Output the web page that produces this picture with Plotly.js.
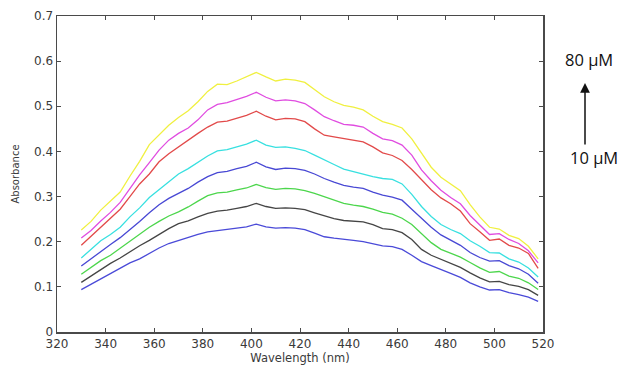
<!DOCTYPE html>
<html>
<head>
<meta charset="utf-8">
<script src="https://cdn.plot.ly/plotly-3.0.1.min.js"></script>
<style>html,body{margin:0;padding:0;background:#fff;}#chart{width:625px;height:368px;}</style>
</head>
<body>
<div id="chart"></div>
<script>
var wavelength = [330,334,338,342,346,350,354,358,362,366,370,374,378,382,386,390,394,398,402,406,410,414,418,422,426,430,434,438,442,446,450,454,458,462,466,470,474,478,482,486,490,494,498,502,506,510,514,518];

var conc10 = [0.094,0.106,0.118,0.130,0.141,0.153,0.162,0.174,0.186,0.196,0.203,0.209,0.216,0.222,0.225,0.227,0.230,0.233,0.239,0.233,0.230,0.231,0.230,0.227,0.219,0.211,0.208,0.206,0.203,0.200,0.196,0.191,0.189,0.183,0.170,0.156,0.147,0.139,0.130,0.121,0.109,0.100,0.093,0.094,0.087,0.083,0.077,0.068];
var conc20 = [0.110,0.124,0.139,0.152,0.164,0.178,0.191,0.203,0.216,0.229,0.240,0.246,0.255,0.263,0.268,0.270,0.274,0.278,0.285,0.278,0.274,0.275,0.274,0.271,0.264,0.257,0.251,0.247,0.246,0.244,0.238,0.229,0.227,0.220,0.205,0.183,0.170,0.161,0.152,0.143,0.131,0.120,0.111,0.112,0.105,0.101,0.094,0.081];
var conc30 = [0.128,0.143,0.158,0.170,0.186,0.200,0.216,0.232,0.245,0.257,0.266,0.277,0.290,0.302,0.308,0.310,0.315,0.319,0.327,0.320,0.316,0.318,0.317,0.313,0.307,0.300,0.292,0.285,0.281,0.278,0.272,0.265,0.261,0.252,0.238,0.219,0.198,0.183,0.175,0.166,0.154,0.142,0.132,0.134,0.124,0.119,0.109,0.094];
var conc40 = [0.146,0.162,0.180,0.194,0.209,0.226,0.245,0.264,0.282,0.296,0.307,0.318,0.332,0.344,0.353,0.356,0.362,0.367,0.376,0.366,0.360,0.363,0.362,0.358,0.350,0.340,0.332,0.325,0.321,0.318,0.310,0.303,0.299,0.292,0.272,0.252,0.232,0.215,0.203,0.192,0.176,0.165,0.157,0.158,0.147,0.140,0.128,0.108];
var conc50 = [0.164,0.182,0.202,0.216,0.232,0.255,0.275,0.298,0.315,0.333,0.350,0.362,0.377,0.390,0.401,0.404,0.410,0.416,0.425,0.414,0.409,0.410,0.407,0.402,0.392,0.381,0.371,0.361,0.355,0.349,0.344,0.340,0.338,0.328,0.305,0.278,0.256,0.238,0.227,0.218,0.202,0.190,0.176,0.175,0.162,0.155,0.142,0.122];
var conc60 = [0.192,0.212,0.233,0.252,0.272,0.300,0.328,0.350,0.377,0.395,0.410,0.426,0.440,0.454,0.465,0.467,0.474,0.480,0.489,0.478,0.470,0.473,0.472,0.466,0.450,0.436,0.432,0.428,0.425,0.421,0.410,0.397,0.391,0.380,0.360,0.337,0.315,0.297,0.284,0.268,0.240,0.222,0.203,0.206,0.192,0.186,0.174,0.141];
var conc70 = [0.208,0.225,0.246,0.265,0.287,0.318,0.348,0.375,0.403,0.425,0.440,0.452,0.470,0.492,0.504,0.508,0.515,0.522,0.531,0.520,0.512,0.514,0.512,0.506,0.492,0.477,0.468,0.460,0.458,0.454,0.440,0.428,0.424,0.414,0.392,0.359,0.335,0.314,0.298,0.284,0.258,0.237,0.216,0.218,0.205,0.196,0.180,0.153];
var conc80 = [0.226,0.245,0.270,0.290,0.310,0.345,0.378,0.415,0.437,0.458,0.475,0.490,0.510,0.533,0.549,0.548,0.556,0.565,0.575,0.565,0.556,0.560,0.558,0.553,0.538,0.521,0.510,0.502,0.498,0.492,0.478,0.466,0.460,0.452,0.428,0.396,0.365,0.343,0.328,0.313,0.282,0.255,0.232,0.228,0.214,0.207,0.190,0.162];

var seriesValues = [conc10, conc20, conc30, conc40, conc50, conc60, conc70, conc80];
var seriesNames = ['10 µM','20 µM','30 µM','40 µM','50 µM','60 µM','70 µM','80 µM'];
var seriesColors = ['#4a4ad8','#454545','#4cd64c','#4848d4','#38e0e0','#e24a4a','#e04ce0','#f0f040'];

var xTicks = [320,340,360,380,400,420,440,460,480,500,520];
var yTicks = [0,0.1,0.2,0.3,0.4,0.5,0.6,0.7];
var yTickText = ['0','0.1','0.2','0.3','0.4','0.5','0.6','0.7'];

var traces = seriesValues.map(function(v, i){
  return {x: wavelength, y: v, type: 'scatter', mode: 'lines', name: seriesNames[i],
          line: {color: seriesColors[i], width: 1.3}, hoverinfo: 'skip'};
});

var axisFont = {family: 'DejaVu Sans, sans-serif', size: 12, color: '#3a3a3a'};

var layout = {
  width: 625, height: 368,
  margin: {l: 57, r: 82, t: 16, b: 36, pad: 0},
  paper_bgcolor: '#ffffff', plot_bgcolor: '#ffffff',
  showlegend: false,
  xaxis: {
    range: [320, 520], tickvals: xTicks, ticktext: xTicks.map(String),
    showgrid: false, zeroline: false, showline: true, mirror: 'ticks',
    linecolor: '#4a4a4a', linewidth: 1.5, ticks: 'inside', ticklen: 4, tickwidth: 1, tickcolor: '#4a4a4a',
    tickfont: axisFont,
    title: {text: 'Wavelength (nm)', font: {family: 'DejaVu Sans, sans-serif', size: 11.5, color: '#3a3a3a'}, standoff: 2}
  },
  yaxis: {
    range: [0, 0.7], tickvals: yTicks, ticktext: yTickText,
    showgrid: false, zeroline: false, showline: true, mirror: 'ticks',
    linecolor: '#4a4a4a', linewidth: 1.5, ticks: 'inside', ticklen: 4, tickwidth: 1, tickcolor: '#4a4a4a',
    tickfont: axisFont,
    title: {text: 'Absorbance', font: {family: 'DejaVu Sans, sans-serif', size: 10, color: '#3a3a3a'}, standoff: 12}
  },
  annotations: [
    {xref: 'paper', yref: 'paper', x: (589-57)/486, y: (332-60)/316, text: '80 µM', showarrow: false,
     font: {family: 'Open Sans, sans-serif', size: 16.5, color: '#111'}, xanchor: 'center', yanchor: 'middle'},
    {xref: 'paper', yref: 'paper', x: (594-57)/486, y: (332-158)/316, text: '10 µM', showarrow: false,
     font: {family: 'Open Sans, sans-serif', size: 16.5, color: '#111'}, xanchor: 'center', yanchor: 'middle'},
    {xref: 'paper', yref: 'paper', x: (585-57)/486, y: (332-83)/316, text: '', showarrow: true,
     ax: 0, ay: 63, arrowhead: 2, arrowsize: 1.3, arrowwidth: 1.5, arrowcolor: '#111', standoff: 0}
  ]
};

Plotly.newPlot('chart', traces, layout, {staticPlot: true, displayModeBar: false});
</script>
</body>
</html>
